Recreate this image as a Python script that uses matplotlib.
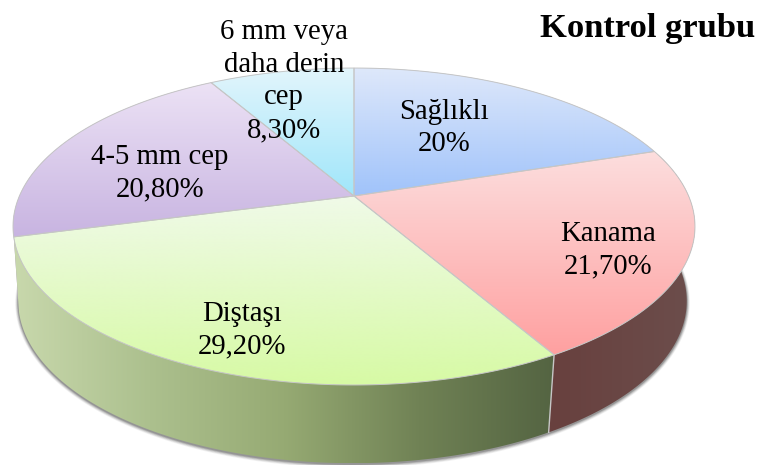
import numpy as np
import matplotlib
matplotlib.use("Agg")
import matplotlib.pyplot as plt
from matplotlib.patches import Polygon

title = "Kontrol grubu"
categories = ["Sağlıklı", "Kanama", "Diştaşı", "4-5 mm cep", "6 mm veya\ndaha derin\ncep"]
values = [20, 21.7, 29.2, 20.8, 8.3]
value_labels = ["20%", "21,70%", "29,20%", "20,80%", "8,30%"]

top_colors = [((222, 232, 250), (160, 195, 250)),
              ((252, 222, 222), (255, 160, 160)),
              ((240, 250, 232), (215, 250, 165)),
              ((236, 226, 245), (200, 180, 225)),
              ((226, 245, 252), (160, 230, 250))]
side_colors = [[(150, 170, 200), (150, 170, 200)],
               [(104, 64, 62), (108, 78, 76)],
               [(200, 216, 172), (172, 192, 142), (150, 170, 115), (112, 130, 85), (84, 100, 66)],
               [(170, 150, 190), (170, 150, 190)],
               [(150, 200, 215), (150, 200, 215)]]
label_xy = [(444, 128), (608, 250), (242, 330), (160, 173), (284, 81)]

W, H = 762, 465
K = 0.1925
TOP = dict(cx=354, cy=196, b=334.6, a=152.6)
BOT = dict(cx=352.5, cy=270, b=328, a=156)
EDGE = "#c6c6c6"

plt.rcParams["font.family"] = ["Liberation Serif", "DejaVu Serif"]
fig = plt.figure(figsize=(W / 100, H / 100), dpi=100)
ax = fig.add_axes([0, 0, 1, 1])
ax.set_xlim(0, W)
ax.set_ylim(H, 0)
ax.axis("off")


def ring(theta, p):
    u, v = np.sin(theta), np.cos(theta)
    s = 1 / (1 + K * v)
    return np.column_stack([p["cx"] + p["b"] * u * s, p["cy"] - p["a"] * v * s])


def fill_gradient(poly, stops, horizontal=False, z=2):
    x0, y0 = poly.min(axis=0)
    x1, y1 = poly.max(axis=0)
    n = 256
    t = np.linspace(0, 1, n)
    stops = np.array(stops, float) / 255
    pos = np.linspace(0, 1, len(stops))
    col = np.column_stack([np.interp(t, pos, stops[:, i]) for i in range(3)])
    img = col[None, :, :] if horizontal else col[:, None, :]
    im = ax.imshow(img, extent=(x0, x1, y1, y0), aspect="auto", zorder=z,
                   interpolation="bilinear")
    patch = Polygon(poly, closed=True, transform=ax.transData, fc="none", ec="none")
    ax.add_patch(patch)
    im.set_clip_path(patch)


fractions = np.cumsum([0] + values) / sum(values)
angles = 2 * np.pi * fractions

# soft shadow below the base
full = np.linspace(0, 2 * np.pi, 361)
for grow, alpha in zip([5, 4, 3, 2, 1], [0.05, 0.07, 0.09, 0.12, 0.16]):
    p = dict(BOT, b=BOT["b"] + grow * 0.6, a=BOT["a"] + grow * 0.6, cy=BOT["cy"] + 1)
    ax.add_patch(Polygon(ring(full, p), closed=True, fc="black", ec="none", alpha=alpha, zorder=1))

# side wall: back slices first, front slices last
order = [0, 4, 3, 1, 2]
for i in order:
    th = np.linspace(angles[i], angles[i + 1], 120)
    upper = ring(th, TOP)
    lower = ring(th, BOT)
    band = np.vstack([upper, lower[::-1]])
    fill_gradient(band, side_colors[i], horizontal=True, z=2 + order.index(i) * 0.1)

# boundary edge between the two visible wall pieces
for i in range(len(values)):
    a = np.array([angles[i]])
    if np.cos(a[0]) < -0.5:
        seg = np.vstack([ring(a, TOP), ring(a, BOT)])
        ax.plot(seg[:, 0], seg[:, 1], color=EDGE, lw=1, zorder=2.9)

# top face
centre = np.array([[TOP["cx"], TOP["cy"]]])
for i in range(len(values)):
    th = np.linspace(angles[i], angles[i + 1], 160)
    poly = np.vstack([centre, ring(th, TOP)])
    fill_gradient(poly, top_colors[i], z=3)
    ax.add_patch(Polygon(poly, closed=True, fc="none", ec=EDGE, lw=0.7, zorder=3.5))

# labels
for name, val, (x, y) in zip(categories, value_labels, label_xy):
    ax.text(x, y, f"{name}\n{val}", ha="center", va="center", fontsize=20.7,
            color="black", linespacing=1.33, zorder=5)
ax.text(647.5, 29, title, ha="center", va="center", fontsize=24.8,
        fontweight="bold", color="black", zorder=5)

ax.set_xlim(0, W)
ax.set_ylim(H, 0)
fig.savefig("out.png", dpi=100, facecolor="white")
